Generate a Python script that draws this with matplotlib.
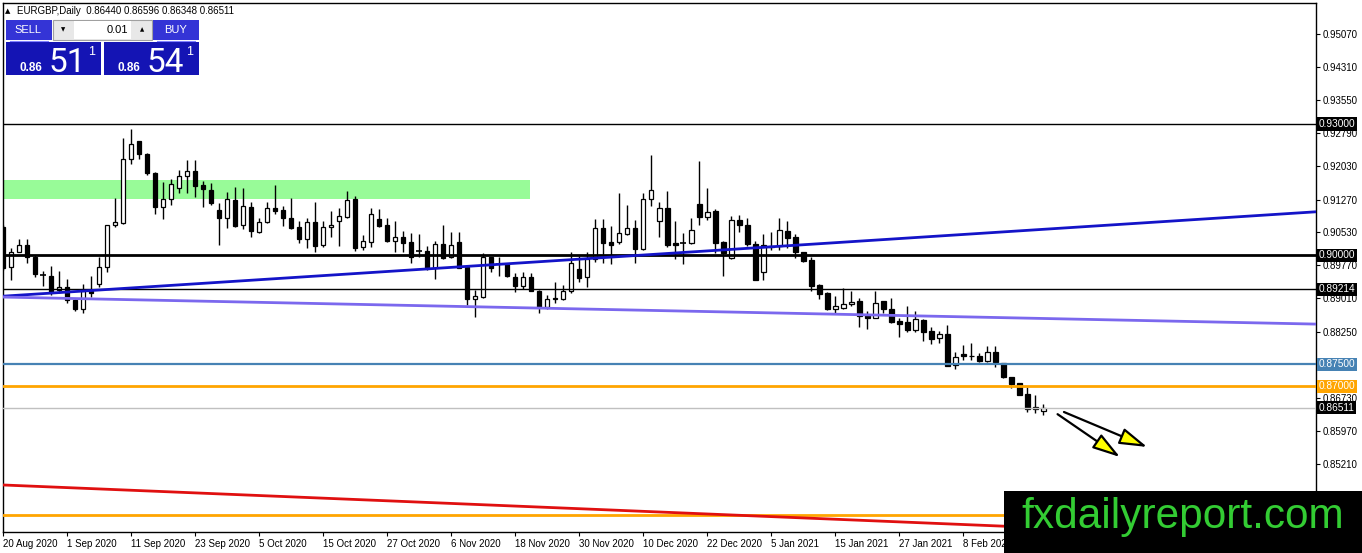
import matplotlib
matplotlib.use("Agg")
import matplotlib.pyplot as plt
from matplotlib.patches import Rectangle
import numpy as np

plt.rcParams['font.family'] = ['Liberation Sans', 'DejaVu Sans']

# EURGBP daily candles, 20 Aug 2020 -> 22 Feb 2021
opens = [0.9065, 0.8972, 0.9008, 0.9022, 0.8996, 0.8954, 0.8952, 0.8920, 0.8926, 0.8897,
         0.8876, 0.8918, 0.8935, 0.8972, 0.9068, 0.9074, 0.9221, 0.9261, 0.9231, 0.9187,
         0.9109, 0.9128, 0.9153, 0.9180, 0.9192, 0.9160, 0.9149, 0.9103, 0.9084, 0.9126,
         0.9069, 0.9109, 0.9054, 0.9075, 0.9108, 0.9103, 0.9086, 0.9064, 0.9038, 0.9075,
         0.9022, 0.9064, 0.9079, 0.9088, 0.9128, 0.9019, 0.9031, 0.9082, 0.9069, 0.9033,
         0.9041, 0.9030, 0.9009, 0.9009, 0.8970, 0.9025, 0.8995, 0.9030, 0.8972, 0.8899,
         0.8905, 0.8995, 0.8979, 0.8979, 0.8951, 0.8930, 0.8949, 0.8917, 0.8882, 0.8903,
         0.8900, 0.8917, 0.8969, 0.8949, 0.8992, 0.9063, 0.9029, 0.9031, 0.9048, 0.9063,
         0.9015, 0.9128, 0.9077, 0.9107, 0.9027, 0.9027, 0.9027, 0.9116, 0.9088, 0.9101,
         0.9029, 0.8993, 0.9080, 0.9070, 0.9025, 0.8961, 0.9019, 0.9021, 0.9055, 0.9041,
         0.9006, 0.8989, 0.8932, 0.8913, 0.8877, 0.8880, 0.8887, 0.8895, 0.8863, 0.8855,
         0.8895, 0.8876, 0.8850, 0.8848, 0.8829, 0.8852, 0.8827, 0.8810, 0.8819, 0.8749,
         0.8774, 0.8769, 0.8769, 0.8758, 0.8778, 0.8752, 0.8722, 0.8707, 0.8682, 0.8652,
         0.86440]
highs = [0.9069, 0.9016, 0.9038, 0.9038, 0.9000, 0.8964, 0.8976, 0.8964, 0.8945, 0.8899,
         0.8933, 0.8952, 0.8995, 0.9069, 0.9130, 0.9267, 0.9288, 0.9262, 0.9233, 0.9191,
         0.9167, 0.9175, 0.9195, 0.9218, 0.9218, 0.9170, 0.9164, 0.9120, 0.9144, 0.9157,
         0.9153, 0.9122, 0.9084, 0.9122, 0.9160, 0.9112, 0.9130, 0.9077, 0.9084, 0.9122,
         0.9077, 0.9102, 0.9107, 0.9147, 0.9135, 0.9046, 0.9107, 0.9105, 0.9086, 0.9077,
         0.9056, 0.9051, 0.9048, 0.9020, 0.9032, 0.9070, 0.9052, 0.9052, 0.8976, 0.8920,
         0.9004, 0.8996, 0.8995, 0.8981, 0.8958, 0.8962, 0.8958, 0.8920, 0.8909, 0.8938,
         0.8932, 0.9008, 0.8998, 0.9008, 0.9082, 0.9082, 0.9067, 0.9143, 0.9115, 0.9080,
         0.9143, 0.9229, 0.9122, 0.9147, 0.9077, 0.9050, 0.9084, 0.9215, 0.9153, 0.9105,
         0.9032, 0.9090, 0.9092, 0.9084, 0.9032, 0.9048, 0.9052, 0.9084, 0.9077, 0.9048,
         0.9006, 0.8995, 0.8933, 0.8916, 0.8906, 0.8924, 0.8918, 0.8901, 0.8871, 0.8918,
         0.8895, 0.8903, 0.8855, 0.8884, 0.8871, 0.8853, 0.8836, 0.8826, 0.8840, 0.8778,
         0.8794, 0.8798, 0.8777, 0.8791, 0.8792, 0.8752, 0.8722, 0.8708, 0.8699, 0.8680,
         0.86596]
lows = [0.8967, 0.8943, 0.9006, 0.8981, 0.8951, 0.8929, 0.8909, 0.8913, 0.8891, 0.8873,
        0.8867, 0.8905, 0.8926, 0.8962, 0.9065, 0.9071, 0.9208, 0.9219, 0.9183, 0.9093,
        0.9082, 0.9114, 0.9143, 0.9141, 0.9134, 0.9111, 0.9115, 0.9023, 0.9061, 0.9065,
        0.9059, 0.9042, 0.9051, 0.9073, 0.9093, 0.9067, 0.9060, 0.9027, 0.9017, 0.9006,
        0.9019, 0.9042, 0.9021, 0.9085, 0.9010, 0.9012, 0.9019, 0.9065, 0.9031, 0.9006,
        0.9006, 0.8983, 0.8995, 0.8967, 0.8945, 0.8990, 0.8993, 0.8970, 0.8886, 0.8859,
        0.8903, 0.8962, 0.8952, 0.8949, 0.8916, 0.8922, 0.8918, 0.8867, 0.8876, 0.8890,
        0.8897, 0.8914, 0.8939, 0.8928, 0.8985, 0.8983, 0.8980, 0.9025, 0.9046, 0.8983,
        0.9012, 0.9113, 0.9042, 0.9019, 0.8990, 0.8980, 0.9025, 0.9069, 0.9080, 0.9004,
        0.8952, 0.8991, 0.9054, 0.9021, 0.8942, 0.8942, 0.9012, 0.9012, 0.9016, 0.8993,
        0.8985, 0.8919, 0.8899, 0.8874, 0.8867, 0.8877, 0.8884, 0.8836, 0.8830, 0.8855,
        0.8868, 0.8845, 0.8812, 0.8825, 0.8825, 0.8804, 0.8796, 0.8800, 0.8747, 0.8739,
        0.8760, 0.8760, 0.8756, 0.8756, 0.8743, 0.8718, 0.8697, 0.8681, 0.8642, 0.8639,
        0.86348]
closes = [0.8970, 0.9008, 0.9022, 0.8996, 0.8956, 0.8954, 0.8916, 0.8926, 0.8897, 0.8876,
          0.8918, 0.8913, 0.8972, 0.9068, 0.9075, 0.9221, 0.9254, 0.9231, 0.9187, 0.9109,
          0.9128, 0.9162, 0.9180, 0.9192, 0.9159, 0.9151, 0.9119, 0.9086, 0.9128, 0.9067,
          0.9112, 0.9056, 0.9075, 0.9107, 0.9102, 0.9086, 0.9061, 0.9038, 0.9075, 0.9021,
          0.9065, 0.9068, 0.9090, 0.9126, 0.9017, 0.9032, 0.9093, 0.9067, 0.9033, 0.9041,
          0.9027, 0.8995, 0.9009, 0.8970, 0.9025, 0.8994, 0.9022, 0.8971, 0.8899, 0.8906,
          0.8995, 0.8970, 0.8979, 0.8953, 0.8930, 0.8949, 0.8919, 0.8882, 0.8899, 0.8899,
          0.8917, 0.8981, 0.8947, 0.8991, 0.9061, 0.9028, 0.9022, 0.9050, 0.9063, 0.9015,
          0.9128, 0.9149, 0.9107, 0.9023, 0.9024, 0.9027, 0.9057, 0.9088, 0.9099, 0.9028,
          0.9004, 0.9080, 0.9070, 0.9025, 0.8942, 0.9022, 0.9021, 0.9057, 0.9040, 0.9006,
          0.8987, 0.8930, 0.8910, 0.8877, 0.8884, 0.8887, 0.8893, 0.8861, 0.8857, 0.8890,
          0.8876, 0.8848, 0.8842, 0.8829, 0.8854, 0.8825, 0.8809, 0.8819, 0.8747, 0.8766,
          0.8768, 0.8768, 0.8758, 0.8778, 0.8755, 0.8720, 0.8705, 0.8681, 0.8648, 0.8649,
          0.86511]

date_labels = ['20 Aug 2020', '1 Sep 2020', '11 Sep 2020', '23 Sep 2020', '5 Oct 2020',
               '15 Oct 2020', '27 Oct 2020', '6 Nov 2020', '18 Nov 2020', '30 Nov 2020',
               '10 Dec 2020', '22 Dec 2020', '5 Jan 2021', '15 Jan 2021', '27 Jan 2021',
               '8 Feb 2021']
label_every = 8  # bars between date labels

price_ticks = [0.95070, 0.94310, 0.93550, 0.92790, 0.92030, 0.91270, 0.90530,
               0.89770, 0.89010, 0.88250, 0.86730, 0.85970, 0.85210]

# horizontal levels: price, colour, width, tag on the price scale
levels = [(0.93000, 'black', 1.0, True),
          (0.90000, 'black', 2.0, True),
          (0.89214, 'black', 1.0, True),
          (0.87500, '#4682b4', 1.6, True),
          (0.87000, '#ffa500', 2.0, True),
          (0.86511, '#c0c0c0', 1.0, True),
          (0.84060, '#ffa500', 2.0, False)]

# trend lines: (bar, price) anchors
blue_trend = [(0, 0.8906), (130, 0.9059)]
purple_trend = [(0, 0.8904), (130, 0.8855)]
red_trend = [(0, 0.8474), (130, 0.8376)]

green_zone = (0, 65.9, 0.9128, 0.9172)  # bar from, bar to, low, high

arrow_starts = [(132.6, 0.8641), (131.8, 0.8636)]
arrow_ends = [(143.0, 0.8561), (139.6, 0.8538)]

W, H = 1362, 553
fig = plt.figure(figsize=(W / 100, H / 100), dpi=100)
ax = fig.add_axes([3 / W, 21 / H, 1313 / W, 529 / H])
ax.set_xlim(0, 164.1)
ax.set_ylim(0.83664, 0.95769)

# zone behind candles
ax.add_patch(Rectangle((green_zone[0], green_zone[2]), green_zone[1] - green_zone[0],
                       green_zone[3] - green_zone[2], fc='#98fb98', ec='none', zorder=1))

# candles
o = np.array(opens); h = np.array(highs); l = np.array(lows); c = np.array(closes)
idx = np.arange(len(o))
ax.vlines(idx, l, h, color='black', lw=1, zorder=3)
for i in idx:
    lo, hi = min(o[i], c[i]), max(o[i], c[i])
    if hi - lo < 0.00006:
        ax.hlines(o[i], i - 0.35, i + 0.35, color='black', lw=1.2, zorder=4)
    else:
        ax.add_patch(Rectangle((i - 0.3, lo), 0.6, hi - lo,
                               fc='white' if c[i] > o[i] else 'black',
                               ec='black', lw=0.9, zorder=4))

# levels
for price, col, lw, tag in levels:
    ax.axhline(price, color=col, lw=lw, zorder=5)
    if tag:
        ax.text(1.0022, price, f'{price:.5f}', transform=ax.get_yaxis_transform(),
                ha='left', va='center', fontsize=7.3, color='white', zorder=10,
                clip_on=False,
                bbox=dict(boxstyle='square,pad=0.15', fc=col if col != '#c0c0c0' else 'black',
                          ec='none'))

ax.axline(*blue_trend, color='#1414c8', lw=2, zorder=5)
ax.axline(*purple_trend, color='#7b68ee', lw=2, zorder=5)
ax.axline(*red_trend, color='#e01010', lw=2, zorder=5)

for s, e in zip(arrow_starts, arrow_ends):
    ax.annotate('', xy=e, xytext=s, zorder=6,
                arrowprops=dict(arrowstyle='-|>,head_length=1.0,head_width=0.3',
                                mutation_scale=17, fc='#ffff00', ec='black', lw=1.6,
                                shrinkA=0, shrinkB=0))

# axes styling
ax.yaxis.tick_right()
ax.set_yticks(price_ticks)
ax.set_yticklabels([f'{p:.5f}' for p in price_ticks])
ax.set_xticks(np.arange(len(date_labels)) * label_every)
ax.set_xticklabels(date_labels, ha='left')
ax.tick_params(axis='both', length=3, width=0.8, labelsize=7, pad=2, color='black')
for sp in ax.spines.values():
    sp.set_linewidth(1)
    sp.set_color('black')

# overlay in pixel space for the terminal widgets
ov = fig.add_axes([0, 0, 1, 1], zorder=20)
ov.set_xlim(0, W)
ov.set_ylim(H, 0)
ov.axis('off')

ov.text(5, 11, '▲', fontsize=5, va='center', ha='left', family=['DejaVu Sans'])
ov.text(17, 11, 'EURGBP,Daily  0.86440 0.86596 0.86348 0.86511', fontsize=7,
        va='center', ha='left')

btn = '#3434d6'
box = '#1414b4'
ov.add_patch(Rectangle((6, 20), 46, 20, fc=btn, ec='none'))
ov.add_patch(Rectangle((153, 20), 46, 20, fc=btn, ec='none'))
ov.text(28, 30, 'SELL', color='white', fontsize=8, ha='center', va='center')
ov.text(176, 30, 'BUY', color='white', fontsize=8, ha='center', va='center')
ov.add_patch(Rectangle((53, 20), 99, 20, fc='#e8e8e8', ec='#a0a0a0', lw=0.8))
ov.add_patch(Rectangle((74, 21), 57, 18, fc='white', ec='none'))
ov.text(63, 30, '▼', fontsize=4, ha='center', va='center', family=['DejaVu Sans'])
ov.text(142, 30, '▲', fontsize=4, ha='center', va='center', family=['DejaVu Sans'])
ov.text(128, 30, '0.01', fontsize=8, ha='right', va='center')
ov.plot([10, 48], [41, 41], color='#8080ff', lw=0.8)
ov.plot([157, 195], [41, 41], color='#8080ff', lw=0.8)

for x0, big in [(6, '51'), (104, '54')]:
    ov.add_patch(Rectangle((x0, 42), 95, 33, fc=box, ec='none'))
    ov.text(x0 + 14, 71, '0.86', color='white', fontsize=8.5, fontweight='bold',
            ha='left', va='baseline')
    ov.text(x0 + 43, 72, big, color='white', fontsize=24, ha='left', va='baseline',
            family=['Roboto', 'DejaVu Sans'])
    ov.text(x0 + 82, 55, '1', color='white', fontsize=9, ha='left', va='baseline')

# watermark
ov.add_patch(Rectangle((1004, 491), W - 1004, H - 491, fc='black', ec='none'))
ov.text(1183, 528, 'fxdailyreport.com', color='#33cc33', fontsize=30.5,
        ha='center', va='baseline')

fig.savefig('out.png', dpi=100)
